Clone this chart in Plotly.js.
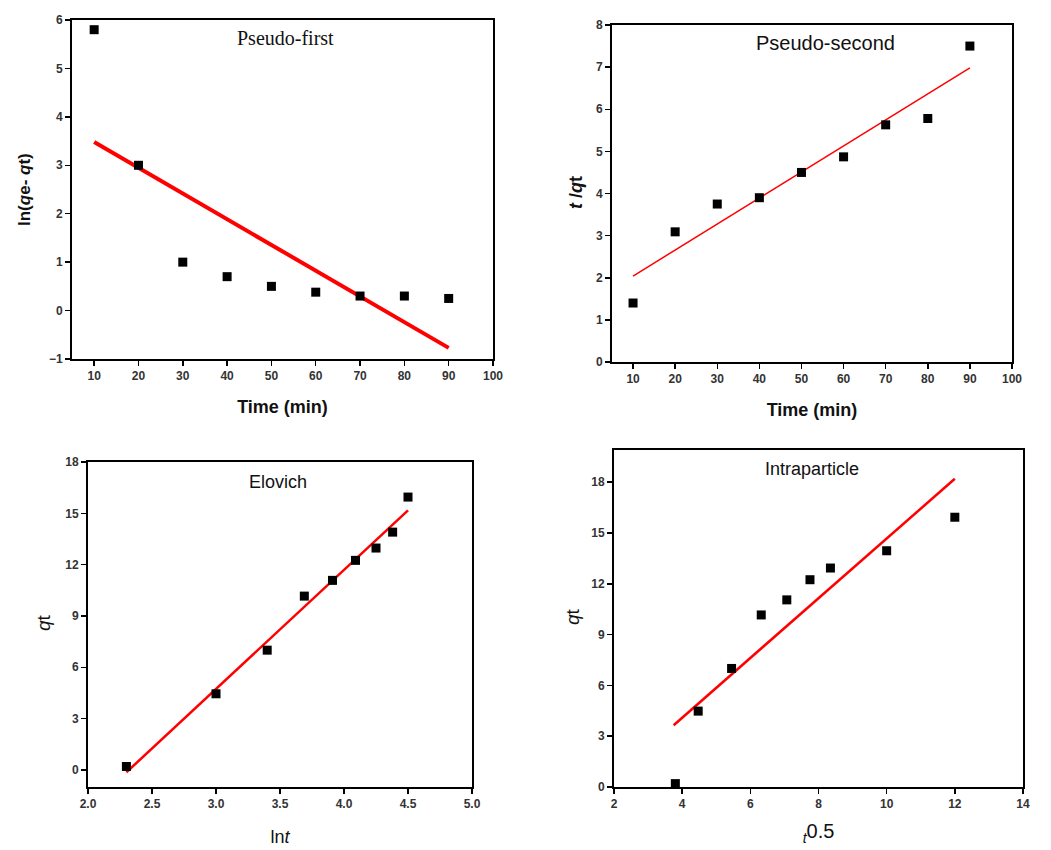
<!DOCTYPE html>
<html>
<head>
<meta charset="utf-8">
<script src="https://cdn.plot.ly/plotly-3.0.1.min.js"></script>
<style>html,body{margin:0;padding:0;background:#fff;}#chart{width:1051px;height:850px;}</style>
</head>
<body>
<div id="chart"></div>
<script>
// Pseudo-first order
const timeMin = [10, 20, 30, 40, 50, 60, 70, 80, 90];
const lnQeQt = [5.8, 3.0, 1.0, 0.7, 0.5, 0.38, 0.3, 0.3, 0.25];
const pfFitX = [10, 90];
const pfFitY = [3.48, -0.77];
// Pseudo-second order
const tOverQt = [1.4, 3.09, 3.75, 3.9, 4.5, 4.87, 5.63, 5.78, 7.5];
const psFitX = [10, 90];
const psFitY = [2.04, 6.98];
// Elovich
const lnT = [2.30, 3.00, 3.40, 3.69, 3.91, 4.09, 4.25, 4.38, 4.50];
const qtElovich = [0.2, 4.45, 7.0, 10.16, 11.08, 12.25, 12.97, 13.9, 15.95];
const elFitX = [2.30, 4.50];
const elFitY = [-0.14, 15.17];
// Intraparticle
const tSqrt = [3.8, 4.47, 5.45, 6.32, 7.07, 7.75, 8.35, 10.0, 12.0];
const qtIntra = [0.2, 4.48, 7.0, 10.16, 11.05, 12.24, 12.93, 13.95, 15.93];
const ipFitX = [3.75, 12.0];
const ipFitY = [3.65, 18.2];

const W = 1051, H = 850;
const dx = (a, b) => [a / W, b / W];
const dy = (top, bottom) => [1 - bottom / H, 1 - top / H];

const marker = {symbol: 'square', size: 9, color: '#000'};
function pts(x, y, xa, ya) {
  return {x, y, xaxis: xa, yaxis: ya, type: 'scatter', mode: 'markers', marker, showlegend: false, hoverinfo: 'x+y'};
}
function fit(x, y, xa, ya, w) {
  return {x, y, xaxis: xa, yaxis: ya, type: 'scatter', mode: 'lines', line: {color: '#ff0000', width: w}, showlegend: false};
}

const data = [
  fit(pfFitX, pfFitY, 'x', 'y', 4), pts(timeMin, lnQeQt, 'x', 'y'),
  fit(psFitX, psFitY, 'x2', 'y2', 1.5), pts(timeMin, tOverQt, 'x2', 'y2'),
  fit(elFitX, elFitY, 'x3', 'y3', 2.5), pts(lnT, qtElovich, 'x3', 'y3'),
  fit(ipFitX, ipFitY, 'x4', 'y4', 2.5), pts(tSqrt, qtIntra, 'x4', 'y4')
];

const SANS = 'Arial, Liberation Sans, sans-serif';
const tickFont = {family: SANS, size: 12, color: '#333', weight: 'bold'};
function tf(size, bold) { return {family: SANS, size, color: '#111', weight: bold ? 'bold' : 'normal'}; }
function ax(domain, range, dtick, tick0, anchor, title, standoff, font, extra) {
  const a = Object.assign({
    domain, range, dtick, tick0, anchor, tickmode: 'linear',
    showline: true, mirror: true, linecolor: '#000', linewidth: 2,
    ticks: 'outside', ticklen: 5, tickwidth: 1.5, tickcolor: '#000',
    showgrid: false, zeroline: false, tickfont: tickFont
  }, extra || {});
  if (title) a.title = {text: title, font, standoff};
  return a;
}
function note(text, px, py, font, angle) {
  return {text, x: px / W, y: 1 - py / H, xref: 'paper', yref: 'paper', showarrow: false,
          xanchor: 'center', yanchor: 'middle', textangle: angle || 0, font};
}

const layout = {
  width: W, height: H,
  margin: {l: 0, r: 0, t: 0, b: 0},
  paper_bgcolor: '#fff', plot_bgcolor: '#fff',
  showlegend: false,
  xaxis: ax(dx(72, 493), [5, 100], 10, 10, 'y', 'Time (min)', 18, tf(18, true)),
  yaxis: ax(dy(20, 359), [-1, 6], 1, -1, 'x'),
  xaxis2: ax(dx(612, 1012), [5, 100], 10, 10, 'y2', 'Time (min)', 18, tf(18, true)),
  yaxis2: ax(dy(25, 362), [0, 8], 1, 0, 'x2'),
  xaxis3: ax(dx(88, 472), [2, 5], 0.5, 2, 'y3', 'ln<i>t</i>', 20, tf(18, false), {tickformat: '.1f'}),
  yaxis3: ax(dy(462, 787), [-1, 18], 3, 0, 'x3'),
  xaxis4: ax(dx(614, 1023), [2, 14], 2, 2, 'y4', '<sub><i>t</i></sub>0.5', 14, tf(20, false)),
  yaxis4: ax(dy(450, 787), [0, 19.9], 3, 0, 'x4'),
  annotations: [
    note('Pseudo-first', 285, 38, {family: 'Liberation Serif, Times New Roman, serif', size: 20, color: '#111'}),
    note('Pseudo-second', 825, 43, tf(20, false)),
    note('Elovich', 278, 482, tf(18, false)),
    note('Intraparticle', 812, 469, tf(18, false)),
    note('ln(<i>q</i>e- <i>q</i>t)', 25, 190, tf(17, true), -90),
    note('<i>t</i> /<i>q</i>t', 576, 193, tf(18, true), -90),
    note('<i>q</i>t', 43, 623, tf(19, false), -90),
    note('<i>q</i>t', 572, 617, tf(19, false), -90)
  ]
};

Plotly.newPlot('chart', data, layout, {displayModeBar: false, staticPlot: true});
</script>
</body>
</html>
